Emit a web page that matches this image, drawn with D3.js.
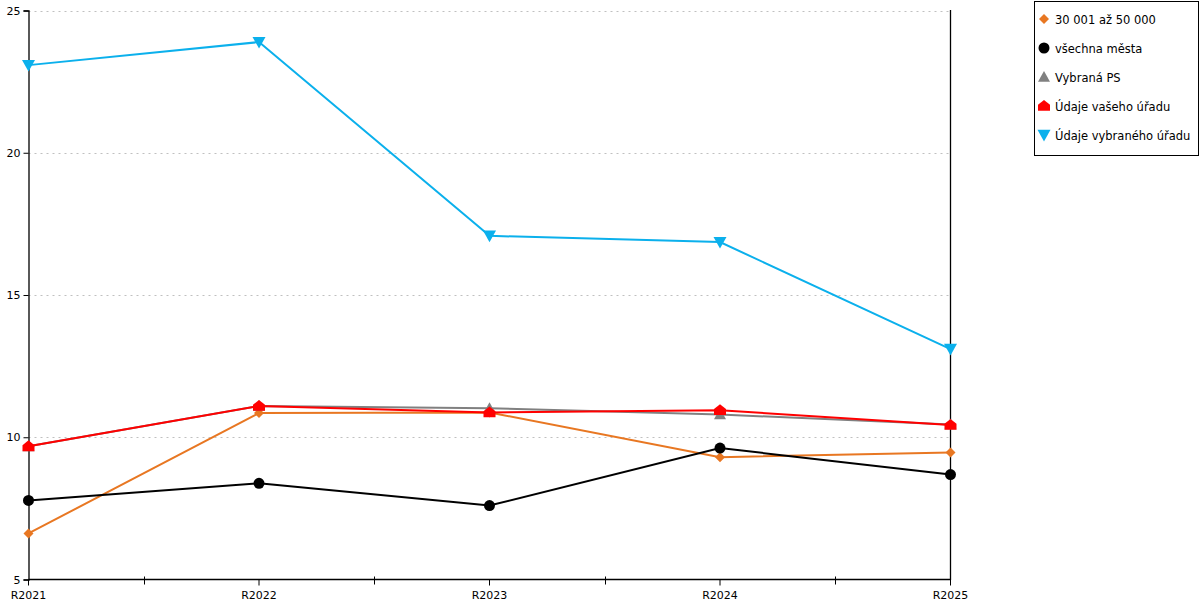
<!DOCTYPE html>
<html>
<head>
<meta charset="utf-8">
<script src="https://cdn.jsdelivr.net/npm/d3@7"></script>
<style>
  html, body { margin: 0; padding: 0; background: #fff; }
  svg { display: block; font-family: "DejaVu Sans", Verdana, sans-serif; }
</style>
</head>
<body>
<svg id="chart" width="1200" height="600"></svg>
<script>
const categories = ["R2021", "R2022", "R2023", "R2024", "R2025"];
const seriesNames = ["30 001 až 50 000", "všechna města", "Vybraná PS", "Údaje vašeho úřadu", "Údaje vybraného úřadu"];
const seriesColors = ["#e87722", "#000000", "#808080", "#ff0000", "#0bb0ec"];
const seriesSymbols = ["diamond", "circle", "triangleUp", "house", "triangleDown"];
const valsOrange = [6.62, 10.85, 10.87, 9.30, 9.46];
const valsBlack  = [7.78, 8.38, 7.60, 9.62, 8.69];
const valsGray   = [9.68, 11.10, 11.02, 10.80, 10.45];
const valsRed    = [9.68, 11.10, 10.87, 10.95, 10.43];
const valsBlue   = [23.08, 23.89, 17.08, 16.86, 13.10];
const yTicks = [5, 10, 15, 20, 25];

const seriesValues = [valsOrange, valsBlack, valsGray, valsRed, valsBlue];

const svg = d3.select("#chart");
const x = d3.scalePoint().domain(categories).range([28.5, 950.5]);
const y = d3.scaleLinear().domain([5, 25]).range([579.5, 10.5]);

// gridlines
svg.append("g").selectAll("line").data(yTicks.filter(t => t > 5)).join("line")
  .attr("x1", 28.5).attr("x2", 950.5)
  .attr("y1", d => Math.round(y(d)) + 0.5).attr("y2", d => Math.round(y(d)) + 0.5)
  .attr("stroke", "#c0c0c0").attr("stroke-width", 1).attr("stroke-dasharray", "2,4");

// right border line
svg.append("line").attr("x1", 950.5).attr("x2", 950.5).attr("y1", 10).attr("y2", 580)
  .attr("stroke", "#000").attr("stroke-width", 1.3);

// y axis
const yAxis = d3.axisLeft(y).tickValues(yTicks).tickSize(5).tickPadding(3);
const gy = svg.append("g").attr("transform", "translate(28.5,0)").call(yAxis);
gy.select(".domain").attr("stroke", "#000").attr("stroke-width", 1.3);
gy.selectAll("text").attr("font-size", 11).attr("fill", "#000").attr("font-family", "DejaVu Sans, Verdana, sans-serif");

// x axis
const gx = svg.append("g").attr("transform", "translate(0,579.5)");
gx.append("line").attr("x1", 28.5).attr("x2", 950.5).attr("y1", 0).attr("y2", 0).attr("stroke", "#000").attr("stroke-width", 1.3);
gx.selectAll("line.tick").data(categories).join("line").attr("class", "tick")
  .attr("x1", d => x(d)).attr("x2", d => x(d)).attr("y1", 0).attr("y2", 6)
  .attr("stroke", "#000");
const mids = categories.slice(1).map((c, i) => (x(categories[i]) + x(c)) / 2);
gx.selectAll("line.mid").data(mids).join("line").attr("class", "mid")
  .attr("x1", d => Math.round(d) + 0.5).attr("x2", d => Math.round(d) + 0.5).attr("y1", -3).attr("y2", 5)
  .attr("stroke", "#000");
gx.selectAll("text").data(categories).join("text")
  .attr("x", d => x(d)).attr("y", 19)
  .attr("text-anchor", "middle").attr("font-size", 11).attr("fill", "#000")
  .text(d => d);

// symbols
function symbolPath(type, size) {
  const s = size;
  if (type === "diamond") return `M0,${-s}L${s},0L0,${s}L${-s},0Z`;
  if (type === "circle") return d3.symbol().type(d3.symbolCircle).size(Math.PI * s * s)();
  if (type === "triangleUp") return `M0,${-s}L${s},${s * 0.8}L${-s},${s * 0.8}Z`;
  if (type === "triangleDown") return `M0,${s}L${s},${-s * 0.8}L${-s},${-s * 0.8}Z`;
  if (type === "house") return `M0,${-s}L${s},${-s * 0.2}L${s},${s * 0.8}L${-s},${s * 0.8}L${-s},${-s * 0.2}Z`;
  return "";
}
const symSize = [5, 5.5, 6, 6, 6.5];

const line = d3.line().x((d, i) => x(categories[i])).y(d => y(d));
seriesValues.forEach((vals, si) => {
  const g = svg.append("g");
  g.append("path").datum(vals).attr("d", line)
    .attr("fill", "none").attr("stroke", seriesColors[si]).attr("stroke-width", 2);
  g.selectAll("path.m").data(vals).join("path").attr("class", "m")
    .attr("transform", (d, i) => `translate(${x(categories[i])},${y(d)})`)
    .attr("d", symbolPath(seriesSymbols[si], symSize[si]))
    .attr("fill", seriesColors[si]);
});

// legend
const lg = svg.append("g");
lg.append("rect").attr("x", 1034.5).attr("y", 1.5).attr("width", 164).attr("height", 154)
  .attr("fill", "#fff").attr("stroke", "#000").attr("stroke-width", 1);
const items = lg.selectAll("g.item").data(seriesNames).join("g").attr("class", "item")
  .attr("transform", (d, i) => `translate(1044,${19 + i * 29})`);
items.append("path")
  .attr("d", (d, i) => symbolPath(seriesSymbols[i], [5, 5.5, 6, 6, 6.5][i]))
  .attr("fill", (d, i) => seriesColors[i]);
items.append("text").attr("x", 11).attr("y", 4.5).attr("font-size", 11.5).attr("fill", "#000")
  .text(d => d);
</script>
</body>
</html>
